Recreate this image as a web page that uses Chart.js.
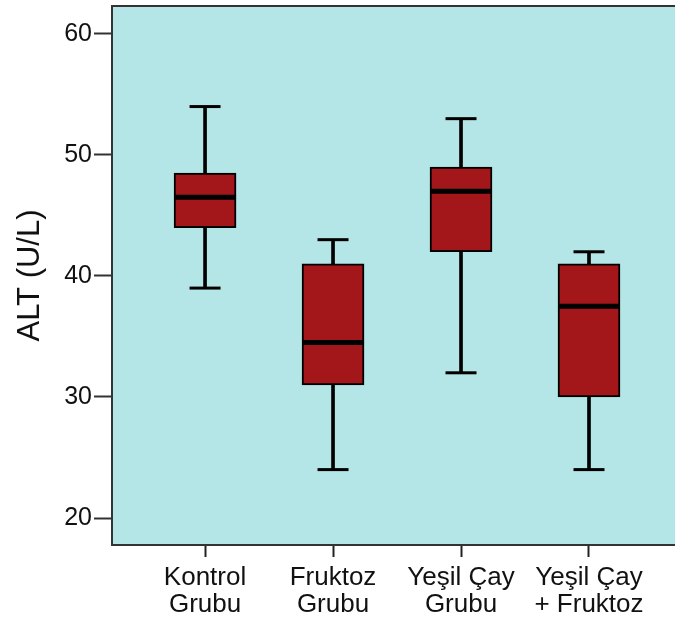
<!DOCTYPE html>
<html>
<head>
<meta charset="utf-8">
<script src="https://cdn.jsdelivr.net/npm/chart.js@4/dist/chart.umd.min.js"></script>
<style>
  html, body { margin: 0; padding: 0; background: #fff; }
  #wrap { width: 675px; height: 628px; }
</style>
</head>
<body>
<div id="wrap"><canvas id="c" width="675" height="628"></canvas></div>
<script>
// groups (two-line labels)
const groups = [['Kontrol', 'Grubu'], ['Fruktoz', 'Grubu'], ['Yeşil Çay', 'Grubu'], ['Yeşil Çay', '+ Fruktoz']];
// box plot values
const mins    = [39, 24, 32, 24];
const q1s     = [44, 31, 42, 30];
const medians = [46.5, 34.5, 47, 37.5];
const q3s     = [48.5, 41, 49, 41];
const maxs    = [54, 43, 53, 42];
const yTicks  = [20, 30, 40, 50, 60];

const boxColor = '#a3161a';
const bgColor = '#b4e6e7';

const pts = arr => arr.map((v, i) => ({ x: i, y: v }));

// plot background + frame (left, top, bottom)
const plotBg = {
  id: 'plotBg',
  beforeDatasetsDraw(chart) {
    const a = chart.chartArea, ctx = chart.ctx;
    ctx.save();
    ctx.fillStyle = bgColor;
    ctx.fillRect(a.left, a.top, a.right - a.left, a.bottom - a.top);
    ctx.restore();
  },
  afterDraw(chart) {
    const a = chart.chartArea, ctx = chart.ctx;
    ctx.save();
    ctx.strokeStyle = '#333';
    ctx.lineWidth = 2;
    ctx.beginPath();
    ctx.moveTo(a.right, a.top);
    ctx.lineTo(a.left, a.top);
    ctx.lineTo(a.left, a.bottom);
    ctx.lineTo(a.right, a.bottom);
    ctx.stroke();
    ctx.restore();
  }
};

function noPad(s) {
  s.paddingTop = 0; s.paddingBottom = 0; s.paddingLeft = 0; s.paddingRight = 0;
}

new Chart(document.getElementById('c'), {
  type: 'bar',
  data: {
    datasets: [
      { type: 'scatter', data: pts(medians), pointStyle: 'line', radius: 31, borderWidth: 5, borderColor: '#000' },
      { type: 'scatter', data: pts(maxs), pointStyle: 'line', radius: 15.5, borderWidth: 3, borderColor: '#000' },
      { type: 'scatter', data: pts(mins), pointStyle: 'line', radius: 15.5, borderWidth: 3, borderColor: '#000' },
      { data: q1s.map((v, i) => ({ x: i, y: [v, q3s[i]] })), backgroundColor: boxColor, borderColor: '#000',
        borderWidth: 2, borderSkipped: false, barThickness: 62, grouped: false },
      { data: mins.map((v, i) => ({ x: i, y: [v, maxs[i]] })), backgroundColor: '#000', borderWidth: 0,
        barThickness: 3, grouped: false }
    ]
  },
  options: {
    responsive: false,
    animation: false,
    events: [],
    layout: { autoPadding: false, padding: { top: 6, right: 0, left: 0, bottom: 0 } },
    plugins: { legend: { display: false }, tooltip: { enabled: false } },
    scales: {
      x: {
        type: 'linear',
        offset: false,
        min: -0.727,
        max: 3.672,
        afterBuildTicks: s => { s.ticks = groups.map((g, i) => ({ value: i })); },
        afterFit: s => { s.height = 83; noPad(s); },
        grid: { offset: false, drawOnChartArea: false, drawTicks: true, tickLength: 12, tickColor: '#222', tickWidth: 2 },
        border: { display: false },
        ticks: {
          callback: v => groups[v],
          color: '#111',
          font: { family: 'Liberation Sans, Arial', size: 26, lineHeight: 1.04 },
          padding: 7,
          maxRotation: 0,
          autoSkip: false
        }
      },
      y: {
        min: 17.77,
        max: 62.31,
        afterBuildTicks: s => { s.ticks = yTicks.map(v => ({ value: v })); },
        afterFit: s => { s.width = 112; noPad(s); },
        grid: { drawOnChartArea: false, drawTicks: true, tickLength: 18, tickColor: '#333', tickWidth: 2 },
        border: { display: false },
        ticks: {
          color: '#111',
          font: { family: 'Liberation Sans, Arial', size: 25 },
          padding: 2
        },
        title: {
          display: true,
          text: 'ALT (U/L)',
          color: '#111',
          font: { family: 'Liberation Sans, Arial', size: 31 },
          padding: { top: 12, bottom: 0 }
        }
      }
    }
  },
  plugins: [plotBg]
});
</script>
</body>
</html>
